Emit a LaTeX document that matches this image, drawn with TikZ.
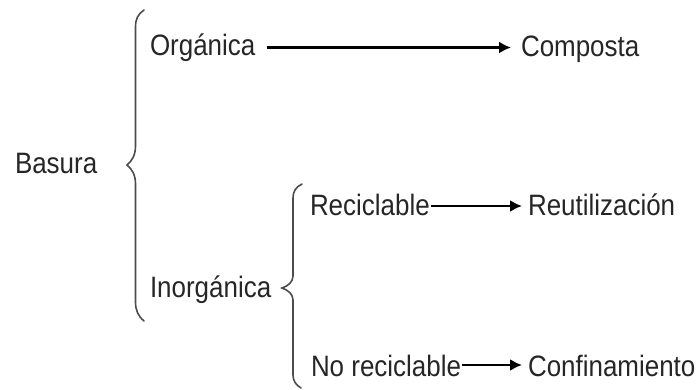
\documentclass[tikz,border=0pt]{standalone}
\usepackage{fontspec}
\setmainfont{Liberation Sans}[FakeStretch=0.88]
\usetikzlibrary{arrows.meta}
\begin{document}
\begin{tikzpicture}[x=1pt,y=-1pt,
  lbl/.style={anchor=base west,inner sep=0pt,outer sep=0pt,text=black!85,
    font=\fontsize{29.5}{32}\selectfont},
  conn/.style={line width=2.2pt,-{Latex[length=12pt,width=12pt]}},
  bracestyle/.style={line width=1.6pt,draw=black!70,line cap=round}]
\useasboundingbox (0,0) rectangle (700,389);
% labels
\node[lbl] (bas) at (15,173) {Basura};
\node[lbl] (org) at (150,55) {Orgánica};
\node[lbl] (com) at (521,56) {Composta};
\node[lbl] (ino) at (150,297) {Inorgánica};
\node[lbl] (rec) at (310,215) {Reciclable};
\node[lbl] (reu) at (528,215) {Reutilización};
\node[lbl] (nor) at (311,376) {No reciclable};
\node[lbl] (con) at (528,376) {Confinamiento};
% connectors
\draw[conn,shorten <=12pt,shorten >=10pt] ([yshift=7.5pt]org.base east) -- ([yshift=7.5pt]org.base east -| com.west);
\draw[conn,shorten <=1pt,shorten >=6pt] ([yshift=9pt]rec.base east) -- ([yshift=9pt]rec.base east -| reu.west);
\draw[conn,shorten <=1pt,shorten >=6pt] ([yshift=11pt]nor.base east) -- ([yshift=11pt]nor.base east -| con.west);
% big brace
\draw[bracestyle] (144,10) .. controls (138,14) and (135.5,19) .. (135.5,27)
  -- (135.5,146) .. controls (135.5,155) and (132,161) .. (127,165)
  .. controls (132,169) and (135.5,175) .. (135.5,184)
  -- (135.5,302) .. controls (135.5,310) and (138,316) .. (144,321);
% small brace
\draw[bracestyle] (302,184) .. controls (296,187) and (293,191) .. (293,198)
  -- (293,276) .. controls (293,282) and (288,286) .. (282,288)
  .. controls (288,290) and (293,294) .. (293,300)
  -- (293,375) .. controls (293,381) and (296,385) .. (301,388);
\end{tikzpicture}
\end{document}
